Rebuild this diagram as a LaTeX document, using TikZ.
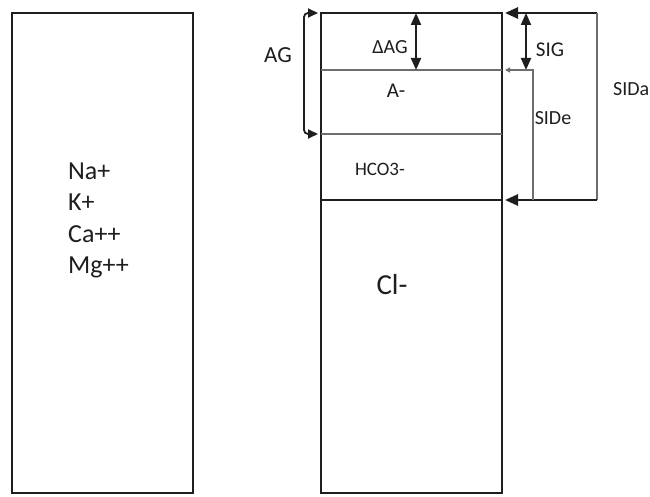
\documentclass[tikz,border=0pt]{standalone}
\usepackage{fontspec}
\setmainfont{Carlito}
\usetikzlibrary{arrows.meta}
\usetikzlibrary{calc}
\definecolor{ink}{RGB}{30,30,30}
\definecolor{rulegray}{RGB}{110,110,110}

\begin{document}
\begin{tikzpicture}[x=1pt, y=-1pt,
    box/.style={draw=ink, line width=2.8pt},
    thinrule/.style={draw=rulegray, line width=1.2pt},
    bigtip/.style={-{Triangle[length=13pt, width=11pt]}},
    dbltip/.style={{Triangle[length=12pt, width=10pt]}-{Triangle[length=12pt, width=10pt]}, draw=ink, line width=2pt},
    lbl/.style={text=ink, inner sep=0pt}]
\useasboundingbox (0,0) rectangle (650,497);

% Cation column
\draw[box] (12,13) rectangle (193,493);
\foreach \name/\ion/\base in {na/Na+/180, k/K+/211, ca/Ca++/242, mg/Mg++/273} {
    \node[lbl, anchor=base west, font=\fontsize{26}{31}\selectfont] (\name) at (68,\base) {\ion};
}

% Anion column
\coordinate (atl) at (321,13);
\coordinate (atr) at (502,13);
\coordinate (ag1l) at (321,70);
\coordinate (ag1r) at (502,70);
\coordinate (ag2l) at (321,134);
\coordinate (ag2r) at (502,134);
\coordinate (hcl) at (321,200);
\coordinate (hcr) at (502,200);
\draw[box] (atl) rectangle (502,493);
\draw[thinrule] (ag1l) -- (ag1r);
\draw[thinrule] (ag2l) -- (ag2r);
\draw[box] (hcl) -- (hcr);

% AG bracket
\coordinate (agt) at (304,13);
\coordinate (agb) at (304,134);
\draw[draw=ink, line width=1.8pt, rounded corners=4pt,
      {Triangle[length=10pt, width=9pt]}-{Triangle[length=10pt, width=9pt]}]
    ($(atl)+(-3,0)$) -- (agt) -- (agb) -- ($(ag2l)+(-3,0)$);

% delta AG and SIG arrows
\coordinate (dagt) at (416,13);
\coordinate (dagb) at (416,70);
\draw[dbltip] (dagt) -- (dagb);
\coordinate (sigt) at (526,13);
\coordinate (sigb) at (526,70);
\draw[dbltip] (sigt) -- (sigb);

% SIDa bracket
\coordinate (sidat) at (597,13);
\coordinate (sidab) at (597,200);
\draw[draw=ink, line width=2.6pt, bigtip] (sidat) -- ($(atr)+(3,0)$);
\draw[thinrule] (sidat) -- (sidab);
\draw[draw=ink, line width=2.6pt, bigtip] (sidab) -- ($(hcr)+(3,0)$);

% SIDe bracket
\coordinate (sidet) at (533,70);
\coordinate (sideb) at (533,200);
\draw[thinrule, -{Triangle[length=5pt, width=5pt]}] (sideb) -- (sidet) -- ($(ag1r)+(3,0)$);

% Labels
\node[lbl, font=\fontsize{23}{26}\selectfont] (ag) at (278,55) {AG};
\node[lbl, font=\fontsize{20}{24}\selectfont] (dag) at (390,47) {ΔAG};
\node[lbl, font=\fontsize{21}{24}\selectfont] (aminus) at (396,91) {A-};
\node[lbl, font=\fontsize{19}{22}\selectfont] (hco) at (380,169) {HCO3-};
\node[lbl, font=\fontsize{29}{32}\selectfont] (cl) at (392,285) {Cl-};
\node[lbl, font=\fontsize{21}{24}\selectfont] (sig) at (550,50) {SIG};
\node[lbl, font=\fontsize{20}{24}\selectfont] (side) at (553,118) {SIDe};
\node[lbl, font=\fontsize{20}{24}\selectfont, anchor=west] (sida) at (613,89) {SIDa};
\end{tikzpicture}
\end{document}
